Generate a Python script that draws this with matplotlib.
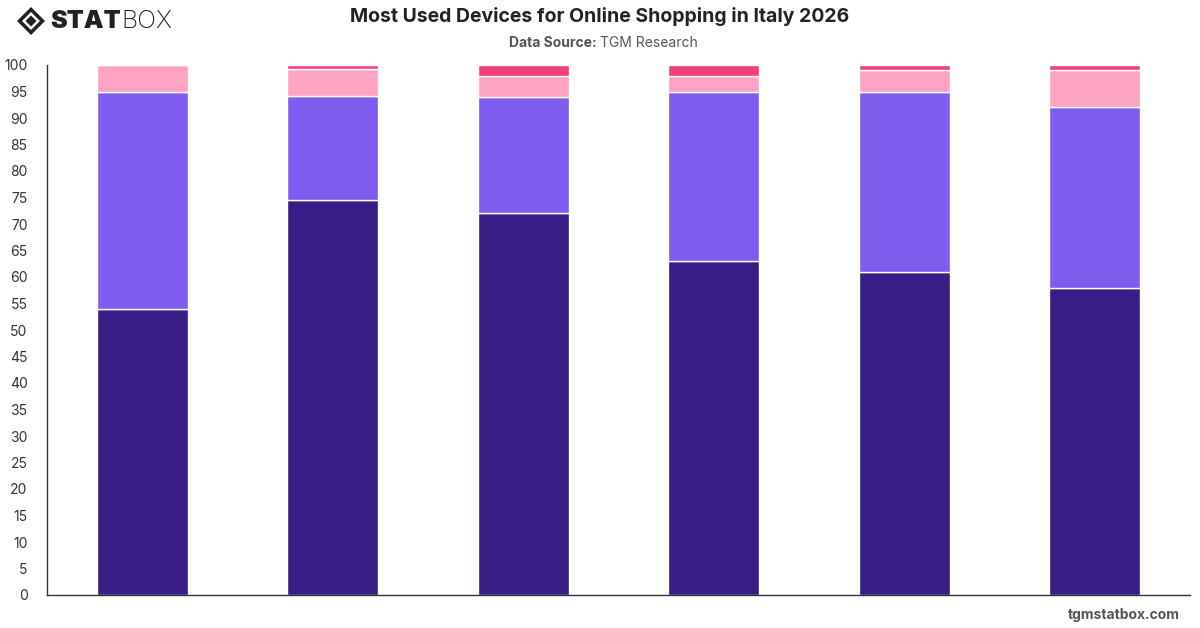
import matplotlib
matplotlib.use("Agg")
import matplotlib.pyplot as plt
from matplotlib.patches import Polygon
import numpy as np

plt.rcParams["font.family"] = ["Inter", "DejaVu Sans"]

groups = ["Group 1", "Group 2", "Group 3", "Group 4", "Group 5", "Group 6"]
smartphone = [54, 74.5, 72, 63, 61, 58]
computer = [41, 19.7, 22, 32, 34, 34]
tablet = [5, 5, 4, 3, 4, 7]
other = [0, 0.8, 2, 2, 1, 1]

series = [smartphone, computer, tablet, other]
names = ["Smartphone", "Laptop/Desktop", "Tablet", "Other"]
colors = ["#391d86", "#7f5ced", "#ffa3c4", "#f53e7e"]

W, H = 1200, 628
fig = plt.figure(figsize=(W / 100, H / 100), dpi=100)
fig.patch.set_facecolor("white")
ax = fig.add_axes([47 / W, (H - 595) / H, (1190 - 47) / W, (595 - 65) / H])

x = np.arange(len(groups))
bottom = np.zeros(len(groups))
for vals, name, c in zip(series, names, colors):
    ax.bar(x, vals, 0.48, bottom=bottom, color=c, edgecolor="white",
           linewidth=1, label=name, zorder=2)
    bottom += np.array(vals)

ax.set_xlim(-0.5, len(groups) - 0.5)
ax.set_ylim(0, 100)
ax.set_yticks(np.arange(0, 101, 5))
ax.set_xticks([])
ax.tick_params(axis="y", length=0, pad=14, labelsize=10, labelcolor="#333333")
for s in ["top", "right"]:
    ax.spines[s].set_visible(False)
for s in ["left", "bottom"]:
    ax.spines[s].set_color("#333333")
    ax.spines[s].set_linewidth(1)

fig.text(0.5, 1 - 17 / H, "Most Used Devices for Online Shopping in Italy 2026",
         ha="center", va="center", fontsize=14, fontweight="bold", color="#222222")
fig.text(0.5, 1 - 43 / H, "Data Source: ", ha="right", va="center",
         fontsize=10, fontweight="bold", color="#555555")
fig.text(0.5, 1 - 43 / H, "TGM Research", ha="left", va="center",
         fontsize=10, color="#555555")
fig.text(1180 / W, 1 - 615 / H, "tgmstatbox.com", ha="right", va="center",
         fontsize=10, fontweight="bold", color="#555555")

# logo
cx, cy, r = 31, 21, 14
outer = [(cx - r, cy), (cx, cy - r), (cx + r, cy), (cx, cy + r)]
fig.patches.append(Polygon([(px / W, 1 - py / H) for px, py in outer],
                           closed=True, transform=fig.transFigure,
                           facecolor="#222222", edgecolor="none"))
ri = 9
inner = [(cx - ri, cy), (cx, cy - ri), (cx + ri, cy), (cx, cy + ri)]
fig.patches.append(Polygon([(px / W, 1 - py / H) for px, py in inner],
                           closed=True, transform=fig.transFigure,
                           facecolor="white", edgecolor="none"))
rc = 5.5
core = [(cx - rc, cy), (cx, cy - rc), (cx + rc, cy), (cx, cy + rc)]
fig.patches.append(Polygon([(px / W, 1 - py / H) for px, py in core],
                           closed=True, transform=fig.transFigure,
                           facecolor="#222222", edgecolor="none"))
stat = fig.text(50 / W, 1 - 22 / H, "STAT", ha="left", va="center", fontsize=18,
                fontweight="black", color="#222222")
fig.canvas.draw()
ext = stat.get_window_extent()
fig.text(ext.x1 / W + 1 / W, 1 - 22 / H, "BOX", ha="left", va="center",
         fontsize=18, fontweight="light", color="#222222")

fig.savefig("out.png", dpi=100, facecolor="white")
